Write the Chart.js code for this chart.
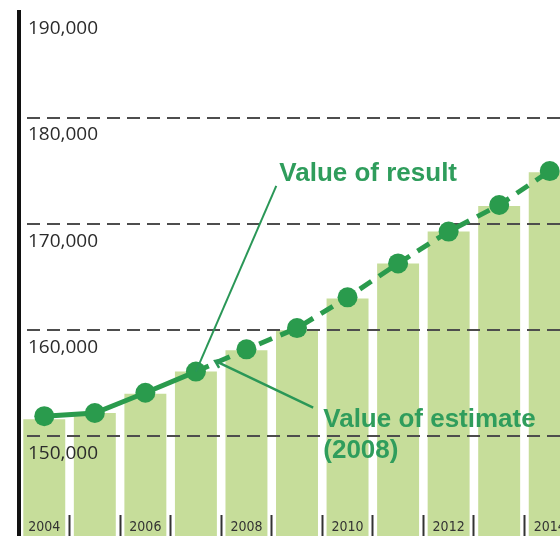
<!DOCTYPE html>
<html>
<head>
<meta charset="utf-8">
<script src="https://cdn.jsdelivr.net/npm/chart.js@4.4.1/dist/chart.umd.min.js"></script>
<style>
  html, body { margin: 0; padding: 0; background: #fff; overflow: hidden; }
  canvas { display: block; }
</style>
</head>
<body>
<canvas id="myChart" width="575" height="536"></canvas>
<script>
// 연도별 값
const years = ['2004', '2005', '2006', '2007', '2008', '2009', '2010', '2011', '2012', '2013', '2014'];
const barValues = [151600, 152200, 154000, 156100, 158100, 160000, 163000, 166300, 169300, 171700, 174900];
const lineValues = [151900, 152200, 154100, 156100, 158200, 160200, 163100, 166300, 169300, 171800, 175000];
const yTicks = [150000, 160000, 170000, 180000, 190000];
const yMin = 140600;
const yMax = 190000;
const estimateFrom = 3; // 2007 이후는 추정치 (점선)

const green = '#2a9b4d';
const textGreen = '#2f9d5c';

// 막대 위, 선 아래에 점선 그리드를 다시 그림
const gridOverBars = {
  id: 'gridOverBars',
  beforeDatasetDraw(chart, args) {
    if (args.meta.type === 'line') {
      chart.scales.y.drawGrid(chart.chartArea);
    }
  }
};

// 주석 텍스트와 지시선
const notes = {
  id: 'notes',
  afterDatasetsDraw(chart) {
    const { ctx, scales: { x, y } } = chart;
    ctx.save();

    // Value of result -> 2007 점
    ctx.strokeStyle = '#2a9757';
    ctx.lineWidth = 2;
    ctx.beginPath();
    ctx.moveTo(x.getPixelForValue(4.59), y.getPixelForValue(173600));
    ctx.lineTo(x.getPixelForValue(estimateFrom), y.getPixelForValue(lineValues[estimateFrom]));
    ctx.stroke();

    // Value of estimate -> 화살표
    const tx = x.getPixelForValue(3.38), ty = y.getPixelForValue(157100);
    const ex = x.getPixelForValue(5.32), ey = y.getPixelForValue(152700);
    ctx.lineWidth = 2.5;
    ctx.beginPath();
    ctx.moveTo(tx, ty);
    ctx.lineTo(ex, ey);
    const a = Math.atan2(ey - ty, ex - tx);
    ctx.moveTo(tx + 8 * Math.cos(a - 0.6), ty + 8 * Math.sin(a - 0.6));
    ctx.lineTo(tx, ty);
    ctx.lineTo(tx + 8 * Math.cos(a + 0.6), ty + 8 * Math.sin(a + 0.6));
    ctx.stroke();

    ctx.fillStyle = textGreen;
    ctx.font = 'bold 26px "Liberation Sans", Arial, sans-serif';
    ctx.textBaseline = 'alphabetic';
    ctx.textAlign = 'left';
    ctx.fillText('Value of result', x.getPixelForValue(4.65), y.getPixelForValue(174100));
    const lx = x.getPixelForValue(5.52), ly = y.getPixelForValue(150900);
    ctx.fillText('Value of estimate', lx, ly);
    ctx.fillText('(2008)', lx, ly + 31);
    ctx.restore();
  }
};

new Chart(document.getElementById('myChart'), {
  data: {
    labels: years,
    datasets: [
      {
        type: 'line',
        data: lineValues,
        borderColor: green,
        backgroundColor: green,
        borderWidth: 5,
        pointRadius: 10,
        pointHoverRadius: 10,
        pointBorderWidth: 0,
        pointBackgroundColor: green,
        tension: 0,
        order: 1,
        segment: {
          borderDash: ctx => ctx.p0DataIndex >= estimateFrom ? [14, 9] : undefined,
        },
      },
      {
        type: 'bar',
        data: barValues,
        backgroundColor: '#c6dd9a',
        barPercentage: 0.83,
        categoryPercentage: 1,
        order: 2,
      },
    ],
  },
  options: {
    responsive: false,
    animation: false,
    layout: { autoPadding: false, padding: { top: 12, left: 0, right: 0, bottom: 0 } },
    plugins: {
      legend: { display: false },
      tooltip: { enabled: false },
    },
    scales: {
      x: {
        type: 'category',
        offset: true,
        afterFit: s => { s.height = 0; s.paddingLeft = 0; s.paddingRight = 0; },
        border: { display: false },
        grid: {
          offset: true,
          drawOnChartArea: false,
          drawTicks: true,
          tickLength: -21,
          tickWidth: 2,
          tickColor: ctx => ctx.index === 0 ? 'rgba(0,0,0,0)' : '#333',
          z: 1,
        },
        ticks: {
          mirror: true,
          padding: 0,
          z: 1,
          autoSkip: false,
          maxRotation: 0,
          color: '#333',
          font: { family: '"Liberation Sans Narrow", "DejaVu Sans Condensed", "Liberation Sans"', size: 14 },
          callback: function (value, index) {
            return index % 2 === 0 ? this.getLabelForValue(value) : '';
          },
        },
      },
      y: {
        position: 'left',
        min: yMin,
        max: yMax,
        afterBuildTicks: s => { s.ticks = yTicks.map(v => ({ value: v })); },
        afterFit: s => { s.width = 19; s.paddingTop = 0; s.paddingBottom = 0; },
        border: { display: true, color: '#111', width: 4, dash: [13, 7], dashOffset: 14 },
        grid: {
          drawTicks: false,
          lineWidth: 2,
          color: ctx => ctx.tick && ctx.tick.value === yMax ? 'rgba(0,0,0,0)' : '#4d4d4d',
        },
        ticks: {
          mirror: true,
          padding: 9,
          labelOffset: 17,
          z: 1,
          color: '#2b2b2b',
          font: { family: '"Open Sans"', size: 19 },
          callback: v => v.toLocaleString('en-US'),
        },
      },
    },
  },
  plugins: [gridOverBars, notes],
});
</script>
</body>
</html>
